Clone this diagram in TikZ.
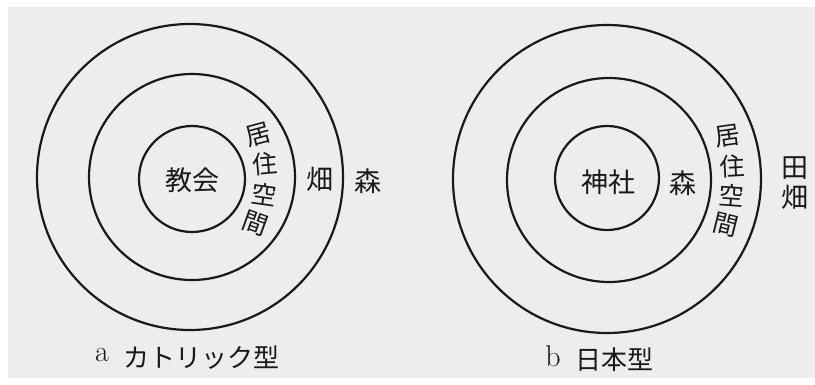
\documentclass[tikz,border=0pt]{standalone}
\usepackage{fontspec}
\newfontfamily\cjk{Noto Sans CJK JP}
\definecolor{paper}{RGB}{237,237,235}
\definecolor{ink}{RGB}{25,25,25}
\begin{document}
\begin{tikzpicture}[x=1pt,y=-1pt,
  ring/.style={circle, draw=ink, line width=2.2pt, inner sep=0pt},
  lbl/.style={font=\cjk\fontsize{27}{27}\selectfont, text=ink, inner sep=0pt},
  vlbl/.style={font=\cjk\fontsize{25}{25}\selectfont, text=ink, inner sep=0pt},
  captext/.style={font=\cjk\fontsize{26}{26}\selectfont, text=ink, inner sep=0pt},
  latin/.style={font=\fontsize{30}{30}\selectfont, text=ink, inner sep=0pt}]
\fill[white] (0,0) rectangle (815,384);
\fill[paper] (8,7) rectangle (815,378);
\useasboundingbox (0,0) rectangle (815,384);
% diagram a
\node[ring, minimum size=306pt] (aouter) at (190,177) {};
\node[ring, minimum size=206pt] (amid) at (192,177) {};
\node[ring, minimum size=106pt] (ainner) at (192,179) {};
\node[lbl] (achurch) at (192,180) {教会};
\node[vlbl, rotate=15] (ak1) at (258,135) {居};
\node[vlbl, rotate=5] (ak2) at (265,164) {住};
\node[vlbl, rotate=-8] (ak3) at (264,194) {空};
\node[vlbl, rotate=-20] (ak4) at (255,223) {間};
\node[lbl] (afield) at (320,179) {畑};
\node[lbl] (aforest) at (368,181) {森};
\node[latin] (aletter) at (102,355) {a};
\node[captext, anchor=west] (acap) at (123,358) {カトリック型};
% diagram b
\node[ring, minimum size=308pt] (bouter) at (607,179) {};
\node[ring, minimum size=204pt] (bmid) at (609,180) {};
\node[ring, minimum size=104pt] (binner) at (607,178) {};
\node[lbl] (bshrine) at (608,182) {神社};
\node[lbl] (bforest) at (683,183) {森};
\node[vlbl, rotate=8] (bk1) at (728,136) {居};
\node[vlbl, rotate=3] (bk2) at (732,166) {住};
\node[vlbl, rotate=-4] (bk3) at (732,196) {空};
\node[vlbl, rotate=-14] (bk4) at (726,225) {間};
\node[lbl] (bfield1) at (795,168) {田};
\node[lbl] (bfield2) at (795,197) {畑};
\node[latin] (bletter) at (553,356) {b};
\node[captext, anchor=west] (bcap) at (575,360) {日本型};
\end{tikzpicture}
\end{document}
